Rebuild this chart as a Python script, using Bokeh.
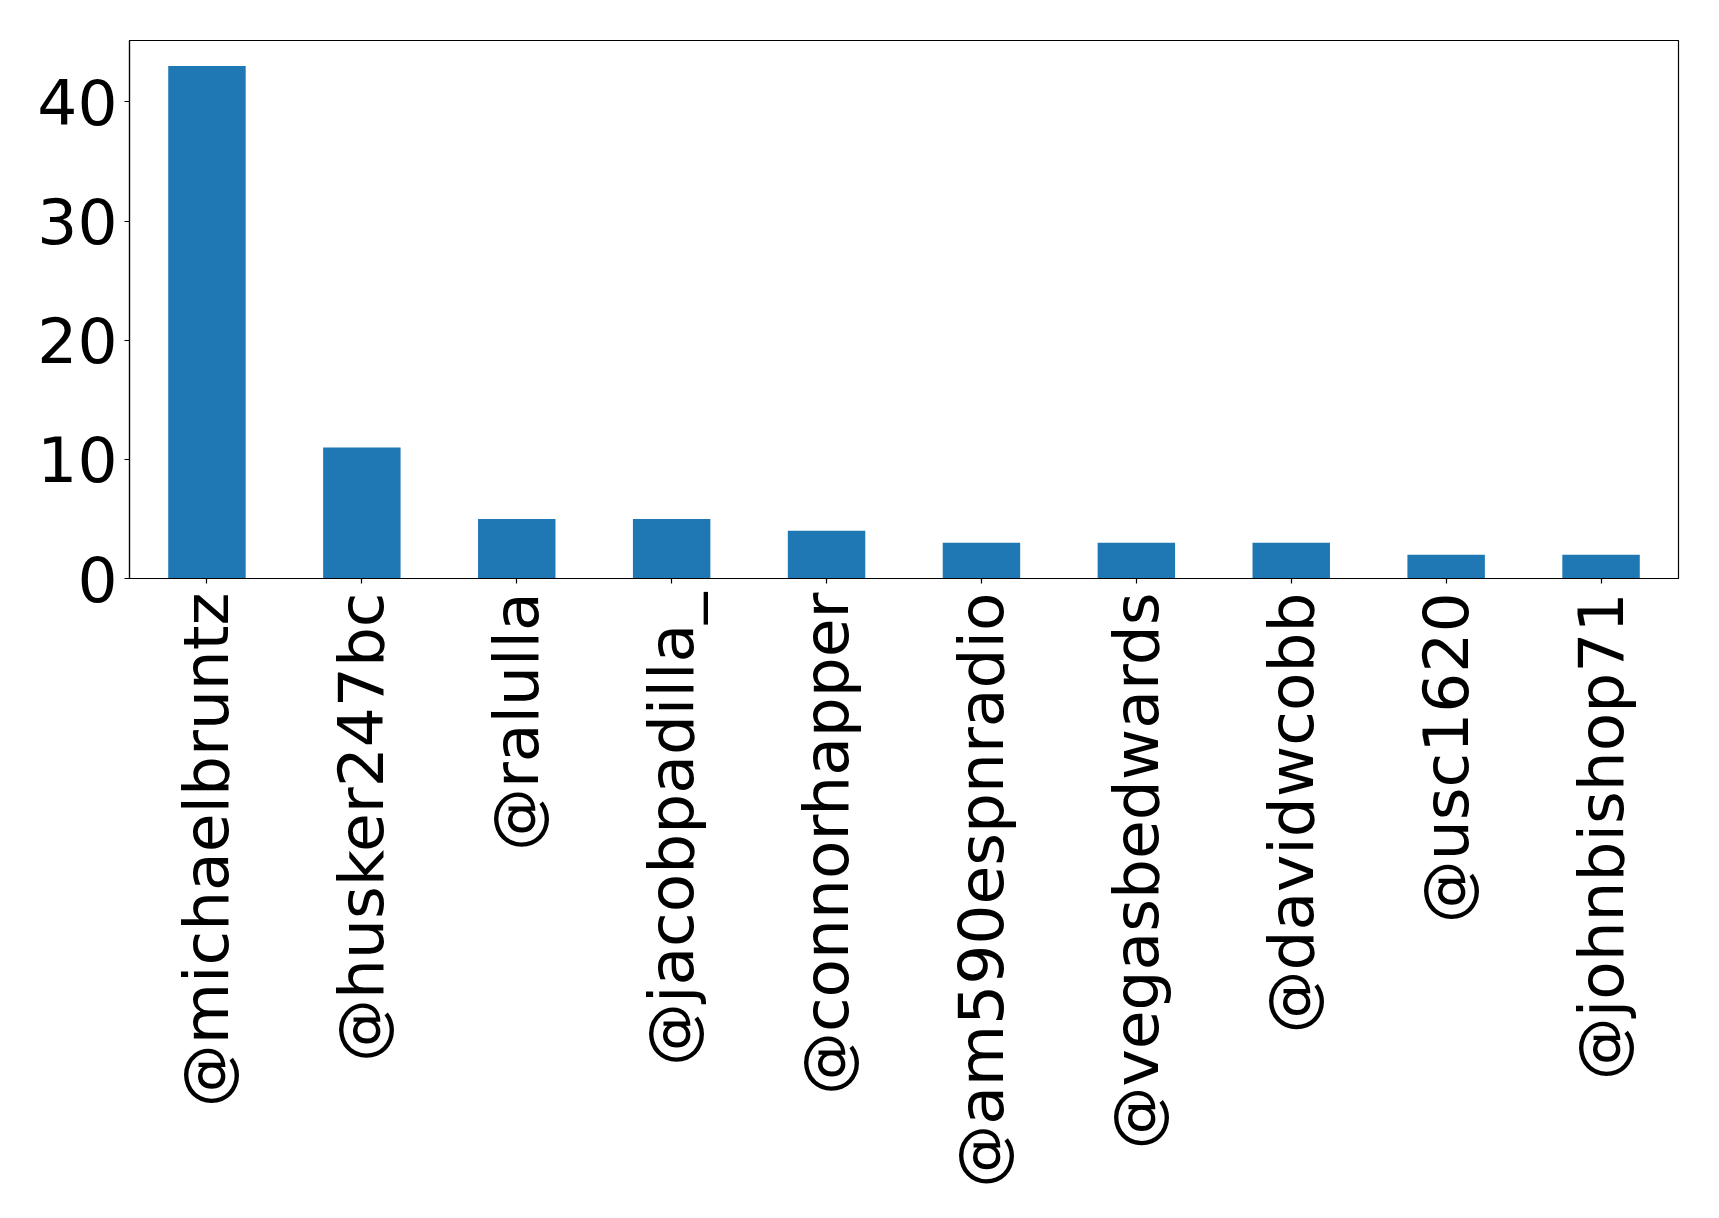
import math
from bokeh.plotting import figure
from bokeh.models import ColumnDataSource, FactorRange, Range1d, FixedTicker
from bokeh.embed import file_html
from bokeh.resources import INLINE

users = ["@michaelbruntz", "@husker247bc", "@ralulla", "@jacobpadilla_", "@connorhapper",
         "@am590espnradio", "@vegasbedwards", "@davidwcobb", "@usc1620", "@johnbishop71"]
counts = [43, 11, 5, 5, 4, 3, 3, 3, 2, 2]
y_ticks = [0, 10, 20, 30, 40]

src = ColumnDataSource(dict(user=users, count=counts))

p = figure(x_range=FactorRange(*users), y_range=Range1d(0, max(counts) * 1.05),
           frame_width=1549, frame_height=538, width=1711, height=1205,
           min_border_left=129, min_border_top=40, min_border_right=33,
           output_backend="svg", toolbar_location=None)

p.vbar(x="user", top="count", width=0.5, source=src, color="#1f77b4", line_color=None)

p.xgrid.visible = False
p.ygrid.visible = False
p.outline_line_color = "black"
p.outline_line_width = 1.2

for ax in (p.xaxis[0], p.yaxis[0]):
    ax.axis_line_color = "black"
    ax.axis_line_width = 1.2
    ax.major_tick_line_color = "black"
    ax.major_tick_line_width = 1.2
    ax.major_tick_out = 5
    ax.major_tick_in = 0
    ax.minor_tick_line_color = None
    ax.major_label_text_font = "DejaVu Sans"
    ax.major_label_text_font_size = "63px"
    ax.major_label_text_color = "black"
    ax.major_label_standoff = 9

p.yaxis[0].major_label_standoff = 7
p.yaxis[0].ticker = FixedTicker(ticks=y_ticks)
p.xaxis[0].major_label_orientation = math.pi / 2

open("out.html", "w").write(file_html(p, INLINE))
